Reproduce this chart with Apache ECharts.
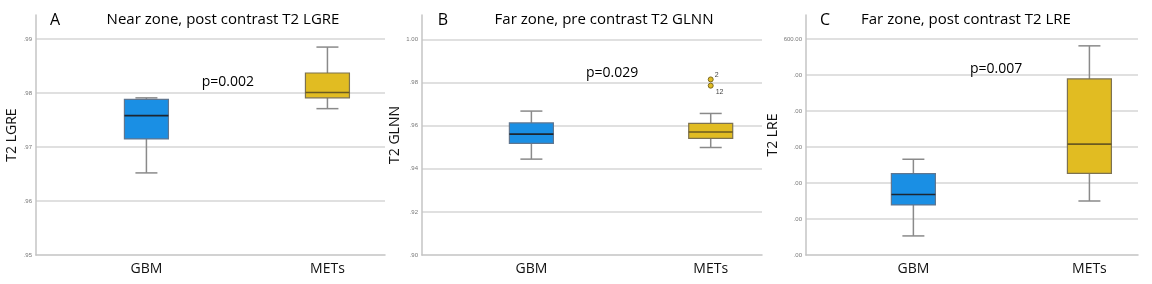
<!DOCTYPE html>
<html>
<head>
<meta charset="utf-8">
<script src="https://cdn.jsdelivr.net/npm/echarts@6/dist/echarts.min.js"></script>
<style>
  html, body { margin: 0; padding: 0; background: #fff; }
  #chart { width: 1152px; height: 284px; }
</style>
</head>
<body>
<div id="chart"></div>
<script>
// groups on the x axis, placed at x = 1 and x = 2
var groups = ['GBM', 'METs'];
var groupPos = [1, 2];

// [min, Q1, median, Q3, max] per group
var nearLGRE = [[0.9652, 0.9715, 0.9758, 0.9788, 0.9791], [0.9771, 0.9791, 0.9801, 0.9837, 0.9885]];
var farGLNN = [[0.9445, 0.9518, 0.9561, 0.9613, 0.9668], [0.9499, 0.9541, 0.9571, 0.9611, 0.9657]];
var farLRE = [[53, 139, 168, 226, 266], [150, 227, 308, 489, 581]];

// outliers of far zone GLNN (METs): [value, case label]
var glnnOutliers = [[0.9815, '2'], [0.9786, '12']];

var panelLetters = ['A', 'B', 'C'];
var panelTitles = ['Near zone, post contrast T2 LGRE', 'Far zone, pre contrast T2 GLNN', 'Far zone, post contrast T2 LRE'];
var axisNames = ['T2 LGRE', 'T2 GLNN', 'T2 LRE'];
var pValues = ['p=0.002', 'p=0.029', 'p=0.007'];
var pValueSpots = [[1.45, 0.9821], [1.45, 0.9846], [1.47, 518]];
var lreTickLabels = ['.00', '.00', '.00', '.00', '.00', '.00', '600.00'];

var fills = ['#1a8fe4', '#e1bc22'];
var borders = ['#5f7690', '#7d7250'];
var medians = ['#1d2630', '#6a5a20'];
var fontFam = '"Open Sans", "Noto Sans", sans-serif';

var chart = echarts.init(document.getElementById('chart'));

function boxRows(stats) {
  return stats.map(function (s, i) { return [groupPos[i]].concat(s); });
}

function renderBox(params, api) {
  var i = params.dataIndex;
  var x = api.value(0);
  var lo = api.coord([x, api.value(1)]);
  var q1 = api.coord([x, api.value(2)]);
  var md = api.coord([x, api.value(3)]);
  var q3 = api.coord([x, api.value(4)]);
  var hi = api.coord([x, api.value(5)]);
  var hw = 22, cw = 11;
  var cx = lo[0];
  var wStyle = { stroke: '#8a8a8a', lineWidth: 1.5 };
  return {
    type: 'group',
    children: [
      { type: 'line', shape: { x1: cx, y1: hi[1], x2: cx, y2: q3[1] }, style: wStyle },
      { type: 'line', shape: { x1: cx, y1: q1[1], x2: cx, y2: lo[1] }, style: wStyle },
      { type: 'line', shape: { x1: cx - cw, y1: hi[1], x2: cx + cw, y2: hi[1] }, style: wStyle },
      { type: 'line', shape: { x1: cx - cw, y1: lo[1], x2: cx + cw, y2: lo[1] }, style: wStyle },
      { type: 'rect', shape: { x: cx - hw, y: q3[1], width: hw * 2, height: q1[1] - q3[1] },
        style: { fill: fills[i], stroke: borders[i], lineWidth: 1.2 } },
      { type: 'line', shape: { x1: cx - hw, y1: md[1], x2: cx + hw, y2: md[1] },
        style: { stroke: medians[i], lineWidth: 1.6 } }
    ]
  };
}

var grids = [
  { left: 36, top: 15, width: 349, height: 240 },
  { left: 422, top: 15, width: 340, height: 240 },
  { left: 806, top: 15, width: 332, height: 240 }
];
var xMax = [2.318, 2.286, 2.276];
var yCfg = [
  { min: 0.95, max: 0.99444, interval: 0.01, fmt: function (v) { return v.toFixed(2).replace(/^0/, ''); } },
  { min: 0.90, max: 1.0114, interval: 0.02, fmt: function (v) { return v >= 1 ? v.toFixed(2) : v.toFixed(2).replace(/^0/, ''); } },
  { min: 0, max: 666.7, interval: 100, fmt: function (v) { return lreTickLabels[Math.round(v / 100)]; } }
];

var xAxes = [], yAxes = [], series = [], graphics = [];
for (var k = 0; k < 3; k++) {
  xAxes.push({
    gridIndex: k, type: 'value', min: 0.39, max: xMax[k],
    axisLine: { lineStyle: { color: '#c4c4c4', width: 1.5 } },
    axisTick: { show: false },
    splitLine: { show: false },
    axisLabel: {
      customValues: groupPos,
      formatter: function (v) { return groups[Math.round(v) - 1] || ''; },
      fontSize: 14, color: '#111', fontFamily: fontFam, margin: 7
    }
  });
  yAxes.push({
    gridIndex: k, type: 'value', min: yCfg[k].min, max: yCfg[k].max, interval: yCfg[k].interval,
    name: axisNames[k], nameLocation: 'middle', nameGap: 17,
    nameTextStyle: { fontSize: 14, color: '#111', fontFamily: fontFam },
    axisLine: { show: true, lineStyle: { color: '#c4c4c4', width: 1.5 } },
    axisTick: { show: false },
    axisLabel: { formatter: yCfg[k].fmt, fontSize: 6, color: '#777', margin: 4, showMaxLabel: false },
    splitLine: { show: true, showMinLine: false, showMaxLine: false, lineStyle: { color: '#e0e0e0', width: 2 } }
  });
}

series.push({ type: 'custom', xAxisIndex: 0, yAxisIndex: 0, renderItem: renderBox, data: boxRows(nearLGRE), encode: { x: 0, y: [1, 2, 3, 4, 5] } });
series.push({ type: 'custom', xAxisIndex: 1, yAxisIndex: 1, renderItem: renderBox, data: boxRows(farGLNN), encode: { x: 0, y: [1, 2, 3, 4, 5] } });
series.push({ type: 'custom', xAxisIndex: 2, yAxisIndex: 2, renderItem: renderBox, data: boxRows(farLRE), encode: { x: 0, y: [1, 2, 3, 4, 5] } });

series.push({
  type: 'scatter', xAxisIndex: 1, yAxisIndex: 1,
  data: glnnOutliers.map(function (o, j) {
    return {
      value: [groupPos[1], o[0]],
      label: j === 0 ? { position: 'right', offset: [-1, -4] } : { position: 'right', offset: [0, 6] }
    };
  }),
  symbolSize: 5,
  itemStyle: { color: '#e1bc22', borderColor: '#7d6a20', borderWidth: 1, opacity: 1 },
  label: { show: true, fontSize: 7, color: '#444', distance: 2, formatter: function (p) { return glnnOutliers[p.dataIndex][1]; } }
});

for (var m = 0; m < 3; m++) {
  series.push({
    type: 'scatter', xAxisIndex: m, yAxisIndex: m, symbolSize: 0,
    data: [pValueSpots[m]],
    itemStyle: { opacity: 1 },
    label: { show: true, position: 'inside', formatter: pValues[m], fontSize: 14, color: '#000', fontFamily: fontFam }
  });
}

var letterX = [55, 443, 825];
var titleX = [223, 604, 966];
for (var n = 0; n < 3; n++) {
  graphics.push({ type: 'text', x: letterX[n], y: 20, style: { text: panelLetters[n], font: '16px ' + fontFam, fill: '#000', align: 'center', verticalAlign: 'middle' } });
  graphics.push({ type: 'text', x: titleX[n], y: 20, style: { text: panelTitles[n], font: '15px ' + fontFam, fill: '#000', align: 'center', verticalAlign: 'middle' } });
}

option = {
  animation: false,
  backgroundColor: '#fff',
  grid: grids,
  xAxis: xAxes,
  yAxis: yAxes,
  series: series,
  graphic: graphics
};

chart.setOption(option);
</script>
</body>
</html>
